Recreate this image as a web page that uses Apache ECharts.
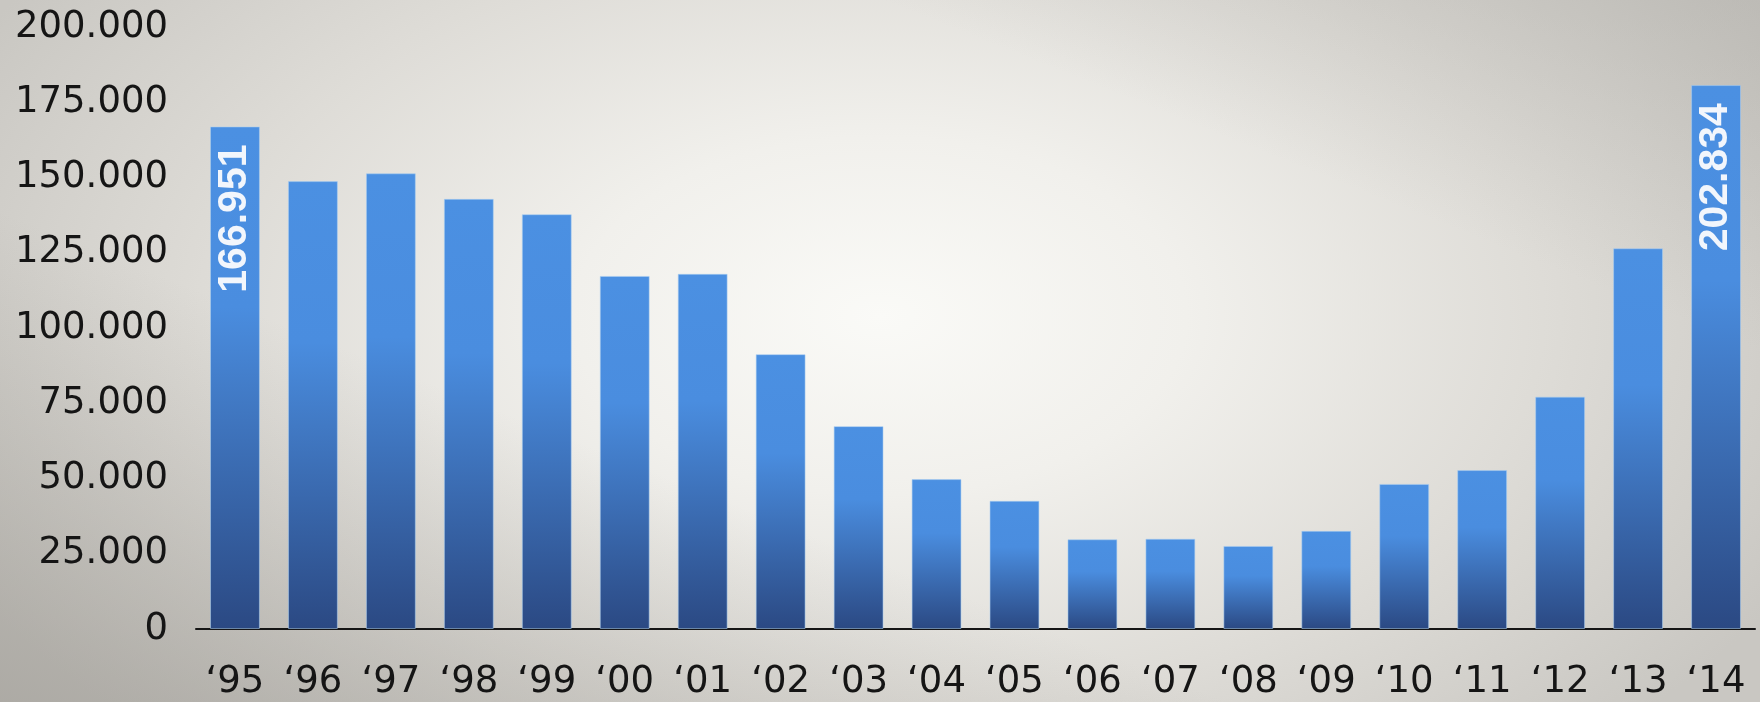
<!DOCTYPE html>
<html>
<head>
<meta charset="utf-8">
<script src="https://cdn.jsdelivr.net/npm/echarts@6/dist/echarts.min.js"></script>
<style>
  html, body { margin: 0; padding: 0; }
  #chart {
    width: 1760px; height: 702px;
    background:
      linear-gradient(to top right, rgba(150,147,141,0.55) 0%, rgba(150,147,141,0.0) 35%),
      linear-gradient(to bottom left, rgba(175,173,168,0.45) 0%, rgba(175,173,168,0.0) 25%),
      radial-gradient(ellipse 58% 85% at 50% 45%, #fafaf7 0%, #f1f0ec 30%, #dedcd7 65%, #c9c7c2 100%);
  }
</style>
</head>
<body>
<div id="chart"></div>
<script>
// Categories (years)
const categories = ['‘95','‘96','‘97','‘98','‘99','‘00','‘01','‘02','‘03','‘04','‘05','‘06','‘07','‘08','‘09','‘10','‘11','‘12','‘13','‘14'];
// Bar heights as drawn in the reference
const barHeights = [166951, 148800, 151400, 142900, 137800, 117300, 118000, 91300, 67400, 49800, 42600, 29800, 30000, 27600, 32600, 48200, 52800, 77200, 126500, 180700];
// Value labels printed inside bars
const valueLabels = ['166.951', '', '', '', '', '', '', '', '', '', '', '', '', '', '', '', '', '', '', '202.834'];
// Y axis settings
const yMin = 0, yMax = 200000, yStep = 25000;

function fmtThousands(v) {
  return String(v).replace(/\B(?=(\d{3})+(?!\d))/g, '.');
}

const chart = echarts.init(document.getElementById('chart'), null, { renderer: 'canvas' });
chart.setOption({
  backgroundColor: 'transparent',
  animation: false,
  grid: { left: 196, right: 5, top: 27, bottom: 73, containLabel: false },
  xAxis: {
    type: 'category',
    data: categories,
    axisLine: { show: true, lineStyle: { color: '#151515', width: 2 } },
    axisTick: { show: false },
    axisLabel: { color: '#151515', fontFamily: 'DejaVu Sans', fontSize: 37, margin: 35, interval: 0 }
  },
  yAxis: {
    type: 'value',
    min: yMin, max: yMax, interval: yStep,
    axisLine: { show: false },
    axisTick: { show: false },
    splitLine: { show: false },
    axisLabel: { color: '#151515', fontFamily: 'DejaVu Sans', fontSize: 37, margin: 28, formatter: fmtThousands }
  },
  series: [{
    type: 'bar',
    data: barHeights,
    barCategoryGap: '36%',
    itemStyle: {
      color: new echarts.graphic.LinearGradient(0, 0, 0, 1, [
        { offset: 0, color: '#4b90e2' },
        { offset: 0.36, color: '#4a8ddf' },
        { offset: 1, color: '#2b4983' }
      ]),
      borderColor: 'rgba(170,205,240,0.55)',
      borderWidth: 1
    },
    label: {
      show: true,
      position: 'insideTop',
      distance: 18,
      rotate: 90,
      align: 'right',
      verticalAlign: 'middle',
      color: '#f2f6fc',
      fontFamily: 'Liberation Sans',
      fontWeight: 'bold',
      fontSize: 41,
      formatter: p => valueLabels[p.dataIndex]
    }
  }]
});
</script>
</body>
</html>
